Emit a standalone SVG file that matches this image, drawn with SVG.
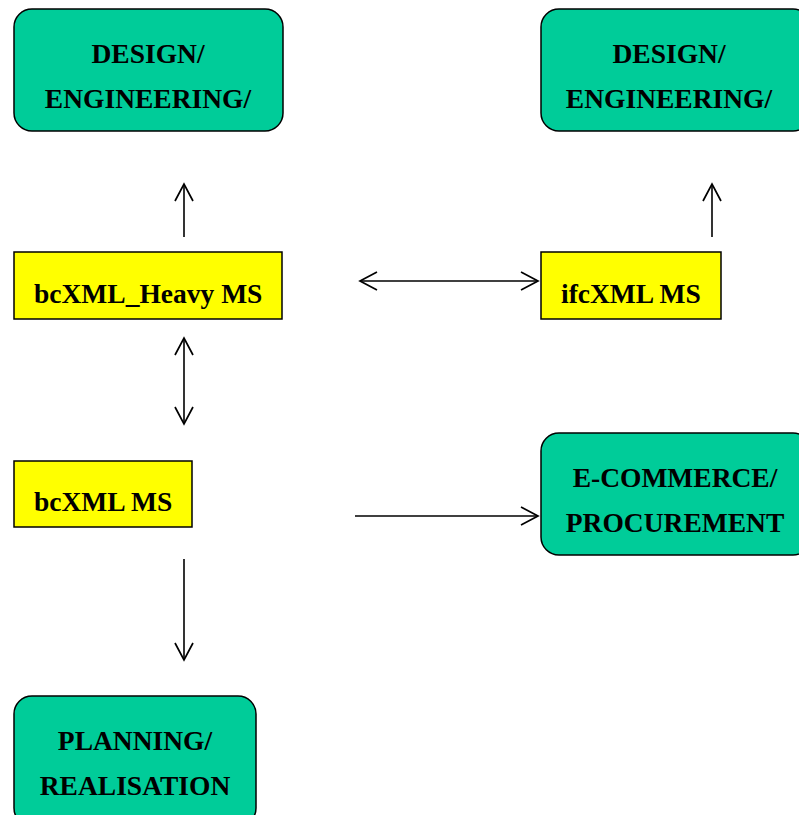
<svg xmlns="http://www.w3.org/2000/svg" width="799" height="815" viewBox="0 0 799 815">
  <defs>
    <marker id="head" viewBox="0 0 20 20" refX="18" refY="10" markerWidth="20" markerHeight="20" markerUnits="userSpaceOnUse" orient="auto-start-reverse">
      <path d="M1,1 L18,10 L1,19" fill="none" stroke="#000" stroke-width="1.7"/>
    </marker>
    <style>
      .domain { fill: #00CC99; stroke: #000; stroke-width: 1.5; }
      .ms { fill: #FFFF00; stroke: #000; stroke-width: 1.5; }
      text { font-family: "Liberation Serif", "Times New Roman", serif; font-weight: bold; font-size: 27.5px; fill: #000; }
      .c { text-anchor: middle; }
      .link { fill: none; stroke: #000; stroke-width: 1.6; }
    </style>
  </defs>
  <rect width="799" height="815" fill="#fff"/>

  <g id="design-left">
    <rect class="domain" x="14" y="9" width="269" height="122" rx="18"/>
    <text class="c" x="148" y="63">DESIGN/</text>
    <text class="c" x="148" y="108">ENGINEERING/</text>
  </g>

  <g id="design-right">
    <rect class="domain" x="541" y="9" width="270" height="122" rx="18"/>
    <text class="c" x="669" y="63">DESIGN/</text>
    <text class="c" x="669" y="108">ENGINEERING/</text>
  </g>

  <g id="bcxml-heavy">
    <rect class="ms" x="14" y="252" width="268" height="67"/>
    <text x="34" y="303">bcXML_Heavy MS</text>
  </g>

  <g id="ifcxml">
    <rect class="ms" x="541" y="252" width="180" height="67"/>
    <text x="561" y="303">ifcXML MS</text>
  </g>

  <g id="bcxml">
    <rect class="ms" x="14" y="461" width="178" height="66"/>
    <text x="34" y="511">bcXML MS</text>
  </g>

  <g id="ecommerce">
    <rect class="domain" x="541" y="433" width="270" height="122" rx="18"/>
    <text class="c" x="675" y="487">E-COMMERCE/</text>
    <text class="c" x="675" y="532">PROCUREMENT</text>
  </g>

  <g id="planning">
    <rect class="domain" x="14" y="696" width="242" height="130" rx="18"/>
    <text class="c" x="135" y="750">PLANNING/</text>
    <text class="c" x="135" y="795">REALISATION</text>
  </g>

  <g id="connectors">
    <line class="link" x1="184" y1="237" x2="184" y2="184" marker-end="url(#head)"/>
    <line class="link" x1="712" y1="237" x2="712" y2="184" marker-end="url(#head)"/>
    <line class="link" x1="360" y1="281" x2="538" y2="281" marker-start="url(#head)" marker-end="url(#head)"/>
    <line class="link" x1="184" y1="338" x2="184" y2="424" marker-start="url(#head)" marker-end="url(#head)"/>
    <line class="link" x1="355" y1="516" x2="538" y2="516" marker-end="url(#head)"/>
    <line class="link" x1="184" y1="559" x2="184" y2="660" marker-end="url(#head)"/>
  </g>
</svg>
